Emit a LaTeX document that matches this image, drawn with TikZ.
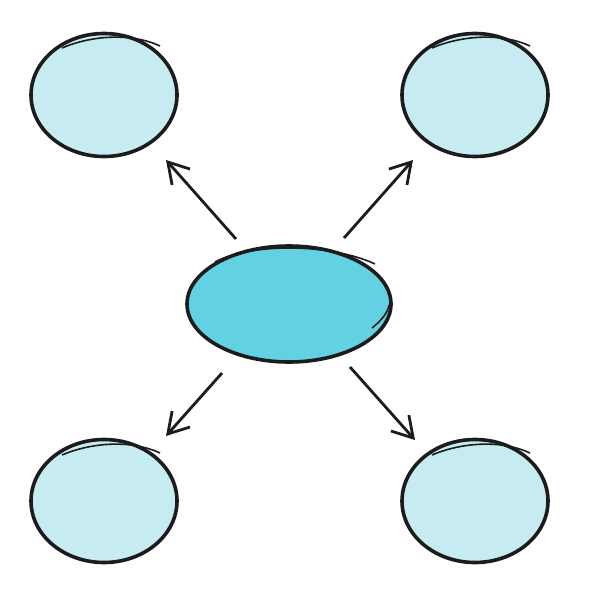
\documentclass[tikz,border=0pt]{standalone}
\usetikzlibrary{shapes.geometric,arrows.meta}
\definecolor{lightc}{HTML}{C6ECF2}
\definecolor{midc}{HTML}{62D1E2}
\definecolor{inkc}{HTML}{1C1C1C}
\begin{document}
\begin{tikzpicture}[x=1pt,y=-1pt,
  blob/.style={ellipse,draw=inkc,line width=3.6pt,fill=lightc,inner sep=0pt},
  hub/.style={ellipse,draw=inkc,line width=3.6pt,fill=midc,inner sep=0pt,minimum width=204pt,minimum height=116pt},
  leaf/.style={blob,minimum width=146pt,minimum height=123pt},
  sketch/.style={draw=inkc,line width=1.6pt},
  arr/.style={draw=inkc,line width=2.8pt,-{Straight Barb[length=20pt,width=24pt,line width=2.8pt]}}]
\useasboundingbox (0,0) rectangle (602,591);
\node[leaf] (tl) at (104,95) {};
\node[leaf] (tr) at (475,95) {};
\node[leaf] (bl) at (104,501) {};
\node[leaf] (br) at (475,501) {};
\node[hub] (c) at (289,304) {};
% sketchy extra strokes
\draw[sketch] (62,48) .. controls (90,36) and (130,32) .. (160,46);
\draw[sketch] (432,48) .. controls (460,36) and (500,32) .. (530,46);
\draw[sketch] (62,455) .. controls (90,443) and (130,439) .. (160,453);
\draw[sketch] (432,455) .. controls (460,443) and (500,439) .. (530,453);
\draw[sketch] (215,262) .. controls (250,243) and (330,243) .. (375,264);
\draw[sketch] (372,328) .. controls (382,320) and (388,312) .. (389,305);
% connector endpoints
\coordinate (a1) at (236,239); \coordinate (t1) at (166,160);
\coordinate (a2) at (344,238); \coordinate (t2) at (413,160);
\coordinate (a3) at (222,373); \coordinate (t3) at (166,436);
\coordinate (a4) at (350,367); \coordinate (t4) at (415,440);
\draw[arr] (a1) -- (t1);
\draw[arr] (a2) -- (t2);
\draw[arr] (a3) -- (t3);
\draw[arr] (a4) -- (t4);
\end{tikzpicture}
\end{document}
